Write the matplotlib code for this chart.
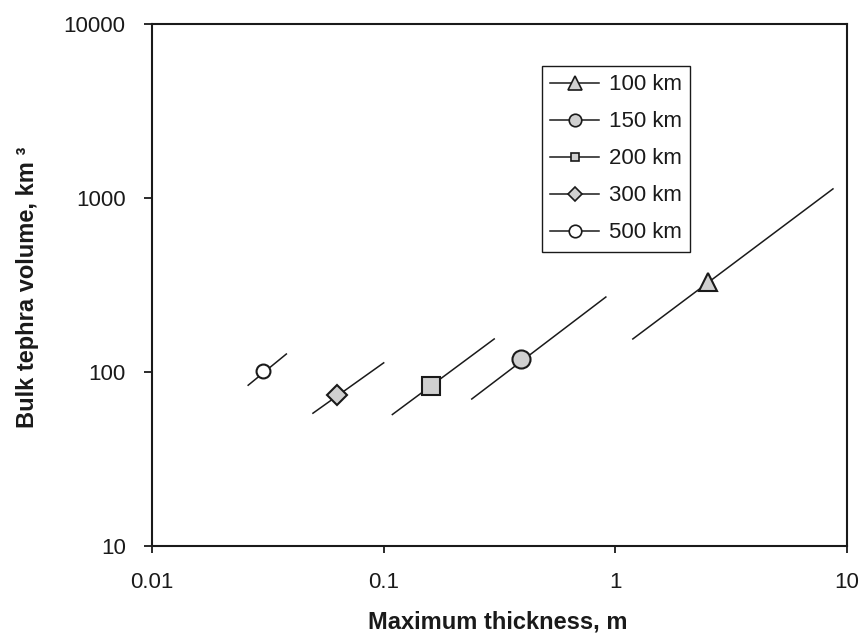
import matplotlib.pyplot as plt
from matplotlib.lines import Line2D

plt.rcParams['font.family'] = ['Liberation Sans', 'DejaVu Sans']

# distance groups, one marker + one fitted segment each
labels = ['100 km', '150 km', '200 km', '300 km', '500 km']
markers = ['^', 'o', 's', 'D', 'o']
fills = ['#d0d0d0', '#d0d0d0', '#d0d0d0', '#d0d0d0', 'white']

point_x = [2.5, 0.39, 0.16, 0.063, 0.03]
point_y = [330, 119, 83, 74, 101]

line_x_start = [1.19, 0.24, 0.109, 0.0495, 0.026]
line_x_end = [8.7, 0.91, 0.30, 0.10, 0.038]
line_y_start = [155, 70, 57, 58, 84]
line_y_end = [1130, 270, 155, 113, 127]

plot_ms = [13.5, 13, 13, 10, 10]
legend_ms = [10, 9, 6, 7.5, 9]

fig = plt.figure(figsize=(8.59, 6.36), dpi=100)
ax = fig.add_axes([0.177, 0.1415, 0.809, 0.8205])

for i in range(len(labels)):
    ax.plot([line_x_start[i], line_x_end[i]], [line_y_start[i], line_y_end[i]],
            color='#1a1a1a', lw=1.1, zorder=2)
    ax.plot(point_x[i], point_y[i], linestyle='none', marker=markers[i],
            ms=plot_ms[i], mfc=fills[i], mec='#1a1a1a', mew=1.5, zorder=3)

ax.set_xscale('log')
ax.set_yscale('log')
ax.set_xlim(0.01, 10)
ax.set_ylim(10, 10000)
ax.set_xticks([0.01, 0.1, 1, 10])
ax.set_xticklabels(['0.01', '0.1', '1', '10'])
ax.set_yticks([10, 100, 1000, 10000])
ax.set_yticklabels(['10', '100', '1000', '10000'])
ax.minorticks_off()
ax.tick_params(axis='both', direction='out', width=1.3, color='#1a1a1a',
               labelsize=16, labelcolor='#1a1a1a')
ax.tick_params(axis='x', length=5, pad=14)
ax.tick_params(axis='y', length=6, pad=13)
for sp in ax.spines.values():
    sp.set_linewidth(1.5)
    sp.set_color('#1a1a1a')

ax.set_xlabel('Maximum thickness, m', fontsize=17, fontweight='bold',
              color='#1a1a1a')
ax.xaxis.set_label_coords(0.498, -0.124)
ax.set_ylabel('Bulk tephra volume, km \u00b3', fontsize=17,
              fontweight='bold', color='#1a1a1a')
ax.yaxis.set_label_coords(-0.163, 0.495)

handles = [Line2D([], [], color='#1a1a1a', lw=1.1, marker=markers[i],
                  ms=legend_ms[i], mfc=fills[i], mec='#1a1a1a', mew=1.2)
           for i in range(len(labels))]
leg = ax.legend(handles, labels, loc='upper left',
                bbox_to_anchor=(0.561, 0.9195), borderaxespad=0,
                fontsize=16, handlelength=2.2, handletextpad=0.45,
                labelspacing=0.72, borderpad=0.37, fancybox=False,
                framealpha=1, edgecolor='#1a1a1a')
leg.get_frame().set_linewidth(1.0)
for t in leg.get_texts():
    t.set_color('#1a1a1a')

fig.savefig('out.png', dpi=100)
